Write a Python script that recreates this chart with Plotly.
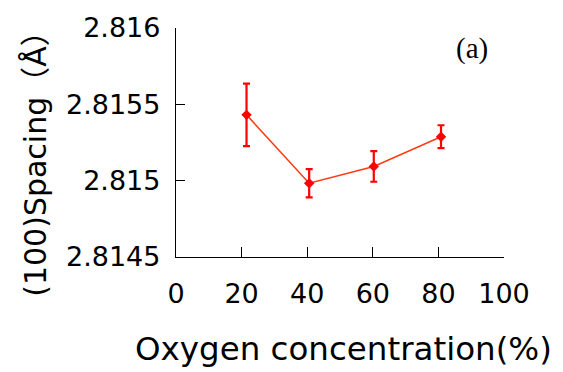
import plotly.graph_objects as go

oxygen = [21.5, 40.6, 60.3, 80.8]
spacing = [2.815431, 2.814983, 2.815093, 2.815288]
err = [0.000205, 0.000093, 0.000100, 0.000075]
xticks = [0, 20, 40, 60, 80, 100]
yticks = [2.8145, 2.815, 2.8155, 2.816]
ytick_text = ["2.8145", "2.815", "2.8155", "2.816"]

font = "DejaVu Sans"
cjk = "Noto Sans CJK SC"

fig = go.Figure()
fig.add_trace(go.Scatter(
    x=oxygen, y=spacing, mode="lines+markers",
    line=dict(color="#FF3A12", width=1.5),
    marker=dict(symbol="diamond", size=8, color="#FF0000"),
    error_y=dict(type="data", array=err, visible=True, color="#FF0000",
                 thickness=2.2, width=3.5),
    showlegend=False,
))

ytitle = ("(100)Spacing"
          f"<span style='font-family:{cjk}'>（</span>Å"
          f"<span style='font-family:{cjk}'>）</span>")

fig.update_layout(
    width=563, height=372,
    margin=dict(l=176, r=59, t=26, b=115),
    paper_bgcolor="white", plot_bgcolor="white",
    font=dict(family=font, size=27, color="black"),
    xaxis=dict(range=[0, 100], tickvals=xticks, ticks="inside", ticklen=10,
               tickcolor="black", tickwidth=1.3, showline=True, linecolor="black",
               linewidth=1.3, showgrid=False, zeroline=False,
               tickfont=dict(size=27, family=font), ticklabelstandoff=12),
    yaxis=dict(range=[2.8145, 2.816], tickvals=yticks, ticktext=ytick_text,
               ticks="inside", ticklen=9, tickcolor="black", tickwidth=1.3,
               showline=True, linecolor="black", linewidth=1.3, showgrid=False,
               zeroline=False, tickfont=dict(size=27, family=font),
               ticklabelstandoff=9),
    annotations=[
        dict(text="Oxygen concentration(%)", xref="paper", yref="paper",
             x=0.512, y=-0.40, xanchor="center", yanchor="middle",
             showarrow=False, font=dict(size=32.5, family=font)),
        dict(text=ytitle, xref="paper", yref="paper",
             x=-0.436, y=0.442, xanchor="center", yanchor="middle", textangle=-90,
             showarrow=False, font=dict(size=30, family=font)),
        dict(text="(a)", xref="paper", yref="paper",
             x=0.9015, y=0.91, xanchor="center", yanchor="middle",
             showarrow=False, font=dict(size=29, family="Liberation Serif")),
    ],
)

fig.write_html("out.html")
